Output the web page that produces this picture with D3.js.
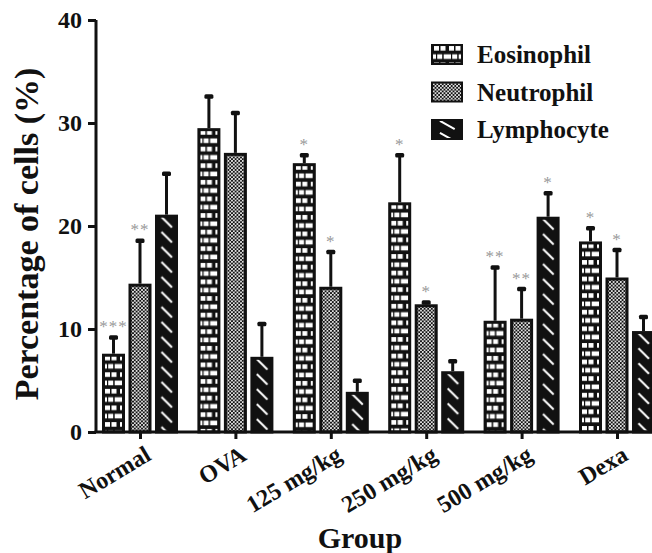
<!DOCTYPE html>
<html><head><meta charset="utf-8">
<script src="https://cdn.jsdelivr.net/npm/d3@7"></script>
<style>html,body{margin:0;padding:0;background:#fff;}svg{display:block;}</style>
</head><body>
<svg id="c" width="652" height="553"></svg>
<script>
const groups = ["Normal", "OVA", "125 mg/kg", "250 mg/kg", "500 mg/kg", "Dexa"];
const seriesNames = ["Eosinophil", "Neutrophil", "Lymphocyte"];
const eosinophil = [7.6, 29.5, 26.1, 22.3, 10.8, 18.5];
const neutrophil = [14.4, 27.1, 14.1, 12.4, 11.0, 15.0];
const lymphocyte = [21.1, 7.3, 3.9, 5.9, 20.9, 9.8];
const eosinophilErr = [1.6, 3.1, 0.8, 4.6, 5.2, 1.3];
const neutrophilErr = [4.2, 3.9, 3.4, 0.2, 2.9, 2.7];
const lymphocyteErr = [4.0, 3.2, 1.1, 1.0, 2.3, 1.4];
const eosinophilSig = ["***", "", "*", "*", "**", "*"];
const neutrophilSig = ["**", "", "*", "*", "**", "*"];
const lymphocyteSig = ["", "", "", "", "*", ""];
const yTicks = [0, 10, 20, 30, 40];

const values = [eosinophil, neutrophil, lymphocyte];
const errs = [eosinophilErr, neutrophilErr, lymphocyteErr];
const sigs = [eosinophilSig, neutrophilSig, lymphocyteSig];
const data = [];
groups.forEach((g, gi) => seriesNames.forEach((s, si) => {
  data.push({g, s, si, v: values[si][gi], e: errs[si][gi], sig: sigs[si][gi], id: gi * 3 + si});
}));

const svg = d3.select("#c");
const FONT = "'Liberation Serif','Times New Roman',serif";
const x0 = d3.scalePoint().domain(groups).range([140, 617]);
const x1 = d3.scaleBand().domain(seriesNames).range([-38, 38]).paddingInner(0.132).paddingOuter(0);
const y = d3.scaleLinear().domain([0, 40]).range([432, 20]);
const bw = x1.bandwidth();

const defs = svg.append("defs");
function makePattern(d, px, py, w, h, id) {
  const p = defs.append("pattern").attr("id", id).attr("patternUnits", "userSpaceOnUse")
    .attr("x", px).attr("y", py);
  if (d === 0) {
    p.attr("width", 15).attr("height", 16.6);
    p.append("rect").attr("width", 15).attr("height", 16.6).attr("fill", "#111");
    [[3, 2], [9.5, 2], [0, 10.3], [6.2, 10.3], [12.7, 10.3]].forEach(([a, b]) =>
      p.append("rect").attr("x", a).attr("y", b).attr("width", 5).attr("height", 4.6).attr("fill", "#fff"));
  } else if (d === 1) {
    p.attr("width", 3.6).attr("height", 3.6);
    p.append("rect").attr("width", 3.6).attr("height", 3.6).attr("fill", "#111");
    p.append("circle").attr("cx", 0.9).attr("cy", 0.9).attr("r", 0.95).attr("fill", "#fff");
    p.append("circle").attr("cx", 2.7).attr("cy", 2.7).attr("r", 0.95).attr("fill", "#fff");
  } else {
    p.attr("width", w).attr("height", h);
    p.append("rect").attr("width", w).attr("height", h).attr("fill", "#111");
    p.append("line").attr("x1", w * 0.28).attr("y1", h * 0.15).attr("x2", w * 0.74).attr("y2", h * 0.85)
      .attr("stroke", "#fff").attr("stroke-width", 2);
  }
}

// bars
data.forEach(d => {
  const bx = x0(d.g) + x1(d.s);
  makePattern(d.si, bx, y(d.v), bw, 15, "pat" + d.id);
});
const gBars = svg.append("g");
gBars.selectAll("rect").data(data).join("rect")
  .attr("x", d => x0(d.g) + x1(d.s) + 1.5)
  .attr("y", d => y(d.v) + 1.5)
  .attr("width", bw - 3)
  .attr("height", d => y(0) - y(d.v) - 1.5)
  .attr("fill", d => `url(#pat${d.id})`)
  .attr("stroke", "#111").attr("stroke-width", 3);

// error bars
const gErr = svg.append("g");
gErr.selectAll("line").data(data).join("line")
  .attr("x1", d => x0(d.g) + x1(d.s) + bw / 2)
  .attr("x2", d => x0(d.g) + x1(d.s) + bw / 2)
  .attr("y1", d => y(d.v))
  .attr("y2", d => y(d.v + d.e))
  .attr("stroke", "#111").attr("stroke-width", 3);
gErr.selectAll("rect").data(data).join("rect")
  .attr("x", d => x0(d.g) + x1(d.s) + bw / 2 - 4.5)
  .attr("y", d => y(d.v + d.e) - 2)
  .attr("width", 9).attr("height", 4.5).attr("rx", 1.5)
  .attr("fill", "#111");

// significance
svg.append("g").selectAll("text").data(data.filter(d => d.sig)).join("text")
  .attr("x", d => x0(d.g) + x1(d.s) + bw / 2)
  .attr("y", d => y(d.v + d.e) - 5)
  .attr("text-anchor", "middle")
  .attr("font-family", FONT).attr("font-size", 17).attr("letter-spacing", 1).attr("fill", "#999")
  .text(d => d.sig);

// y axis
const yAxis = d3.axisLeft(y).tickValues(yTicks).tickSize(8).tickPadding(6);
const gy = svg.append("g").attr("transform", "translate(96,0)").call(yAxis);
gy.attr("font-family", FONT).attr("font-size", 24);
gy.select(".domain").attr("stroke", "#111").attr("stroke-width", 3).attr("d", `M0,${y(40)}V${y(0)}`);
gy.selectAll(".tick line").attr("stroke", "#111").attr("stroke-width", 3);
gy.selectAll(".tick text").attr("font-weight", "bold").attr("fill", "#111");

// x axis
const xAxis = d3.axisBottom(x0).tickSize(7).tickPadding(4);
const gx = svg.append("g").attr("transform", `translate(0,${y(0)})`).call(xAxis);
gx.attr("font-family", FONT).attr("font-size", 24);
gx.select(".domain").attr("stroke", "#111").attr("stroke-width", 3).attr("d", "M94.5,0H652");
gx.selectAll(".tick line").attr("stroke", "#111").attr("stroke-width", 3);
gx.selectAll(".tick text")
  .attr("font-weight", "bold").attr("fill", "#111")
  .attr("text-anchor", "end").attr("dy", 0).attr("y", 0)
  .attr("transform", "translate(12,27) rotate(-31)");

// axis titles
svg.append("text").attr("x", 360).attr("y", 548).attr("text-anchor", "middle")
  .attr("font-family", FONT).attr("font-weight", "bold").attr("font-size", 30).attr("fill", "#111")
  .text("Group");
svg.append("text").attr("transform", "translate(38,234) rotate(-90)").attr("text-anchor", "middle")
  .attr("font-family", FONT).attr("font-weight", "bold").attr("font-size", 34).attr("fill", "#111")
  .text("Percentage of cells (%)");

// legend
const leg = svg.append("g");
seriesNames.forEach((s, i) => {
  const ly = 44 + i * 37.5;
  makePattern(i, 431, ly, 32, 12, "leg" + i);
  leg.append("rect").attr("x", 432).attr("y", ly + 1).attr("width", 30).attr("height", 19)
    .attr("fill", `url(#leg${i})`).attr("stroke", "#111").attr("stroke-width", 2);
  leg.append("text").attr("x", 477).attr("y", ly + 19)
    .attr("font-family", FONT).attr("font-weight", "bold").attr("font-size", 25).attr("fill", "#111")
    .text(s);
});
</script>
</body></html>
